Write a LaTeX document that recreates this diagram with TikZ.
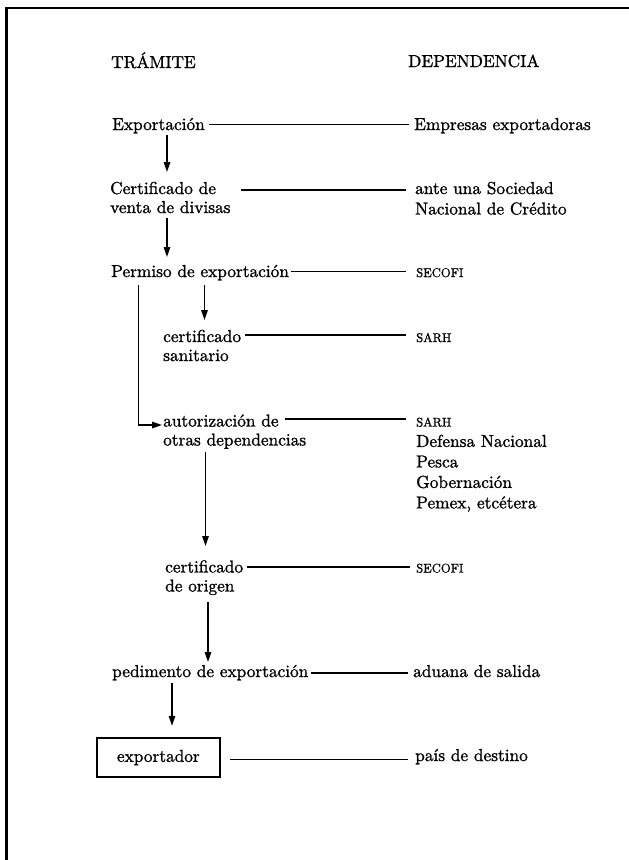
\documentclass[tikz,border=0pt]{standalone}
\usepackage{fontspec}
\setmainfont{lmroman10-regular.otf}[FakeBold=1.2]
\usetikzlibrary{arrows.meta,calc}
\begin{document}
\begin{tikzpicture}[x=1pt,y=-1pt,
  txt/.style={anchor=base west,inner sep=0pt,font=\fontsize{17.3}{19}\selectfont,align=left},
  rtxt/.style={anchor=base west,inner sep=0pt,font=\fontsize{17.3}{20.5}\selectfont,align=left},
  sm/.style={anchor=base west,inner sep=0pt,font=\fontsize{12.6}{14}\selectfont},
  link/.style={line width=1.5pt},
  flow/.style={line width=1.5pt,-{Triangle[length=10pt,width=6.5pt]}},
  framebox/.style={draw,line width=1.8pt,inner sep=0pt,minimum width=123.3pt,minimum height=38.5pt,font=\fontsize{17.3}{19}\selectfont}]
\useasboundingbox (0,0) rectangle (629,860);
% frame
\draw[line width=2.7pt] (6.5,860) -- (6.5,8);
\draw[line width=1.4pt] (5.2,8) -- (629,8);
% headings
\node[txt] (h1) at (111,68) {TRÁMITE};
\node[txt] (h2) at (408,67) {DEPENDENCIA};
% left column (multi-line nodes: base = last line)
\node[txt] (exp) at (112,130) {Exportación};
\node[txt] (cert) at (110,213) {Certificado de\\venta de divisas};
\node[txt] (perm) at (111,277) {Permiso de exportación};
\node[txt] (csan) at (163,361) {certificado\\sanitario};
\node[txt] (aut) at (163,445.5) {autorización de\\otras dependencias};
\node[txt] (corig) at (165,591.5) {certificado\\de origen};
\node[txt] (ped) at (112,677) {pedimento de exportación};
\node[framebox] (box) at (158.35,757.5) {exportador};
% right column
\node[rtxt] (emp) at (414,130) {Empresas exportadoras};
\node[rtxt] (soc) at (415,214.5) {ante una Sociedad\\Nacional de Crédito};
\node[sm] (secofi1) at (416,277) {SECOFI};
\node[sm] (sarh1) at (416,342) {SARH};
\node[sm] (sarh2) at (416,426.5) {SARH};
\node[rtxt] (otras) at (416,508.4) {Defensa Nacional\\Pesca\\Gobernación\\Pemex, etcétera};
\node[sm] (secofi2) at (416,572.5) {SECOFI};
\node[rtxt] (adu) at (413,677) {aduana de salida};
\node[rtxt] (pais) at (415,761) {país de destino};
% horizontal links
\draw[link] ($(exp.base west)+(97,-5.5)$) -- ($(emp.base west)+(-5,-5.5)$);
\draw[link] ($(cert.base west)+(131,-23)$) -- ($(soc.base west)+(-9,-24.5)$);
\draw[link] ($(perm.base west)+(180,-5.5)$) -- ($(secofi1.base west)+(-10,-5.5)$);
\draw[link] ($(csan.base west)+(82,-26)$) -- ($(sarh1.base west)+(-10,-7)$);
\draw[link] ($(aut.base west)+(121.5,-26.5)$) -- ($(sarh2.base west)+(-10,-7.5)$);
\draw[link] ($(corig.base west)+(81.5,-24.5)$) -- ($(secofi2.base west)+(-6,-5.5)$);
\draw[link] ($(ped.base west)+(199,-4)$) -- ($(adu.base west)+(-5,-4)$);
\draw[link] ($(box.east)+(9,2)$) -- ($(pais.base west)+(-7,-1.5)$);
% flow arrows
\draw[flow] ($(exp.base west)+(55,5)$) -- ($(cert.base west)+(57,-41)$);
\draw[flow] ($(cert.base west)+(57,5)$) -- ($(perm.base west)+(56,-20)$);
\draw[flow] ($(perm.base west)+(93.5,8)$) -- ($(csan.base west)+(41.5,-41)$);
\draw[flow] ($(perm.base west)+(27.5,8)$) |- ($(aut.base west)+(-1,-20.5)$);
\draw[flow] ($(aut.base west)+(42.5,6.5)$) -- ($(corig.base west)+(40.5,-45.5)$);
\draw[flow] ($(corig.base west)+(43,10.5)$) -- ($(ped.base west)+(96,-15)$);
\draw[flow] ($(ped.base west)+(60,6)$) -- ($(box.north)+(13.65,-11.5)$);
\end{tikzpicture}
\end{document}
